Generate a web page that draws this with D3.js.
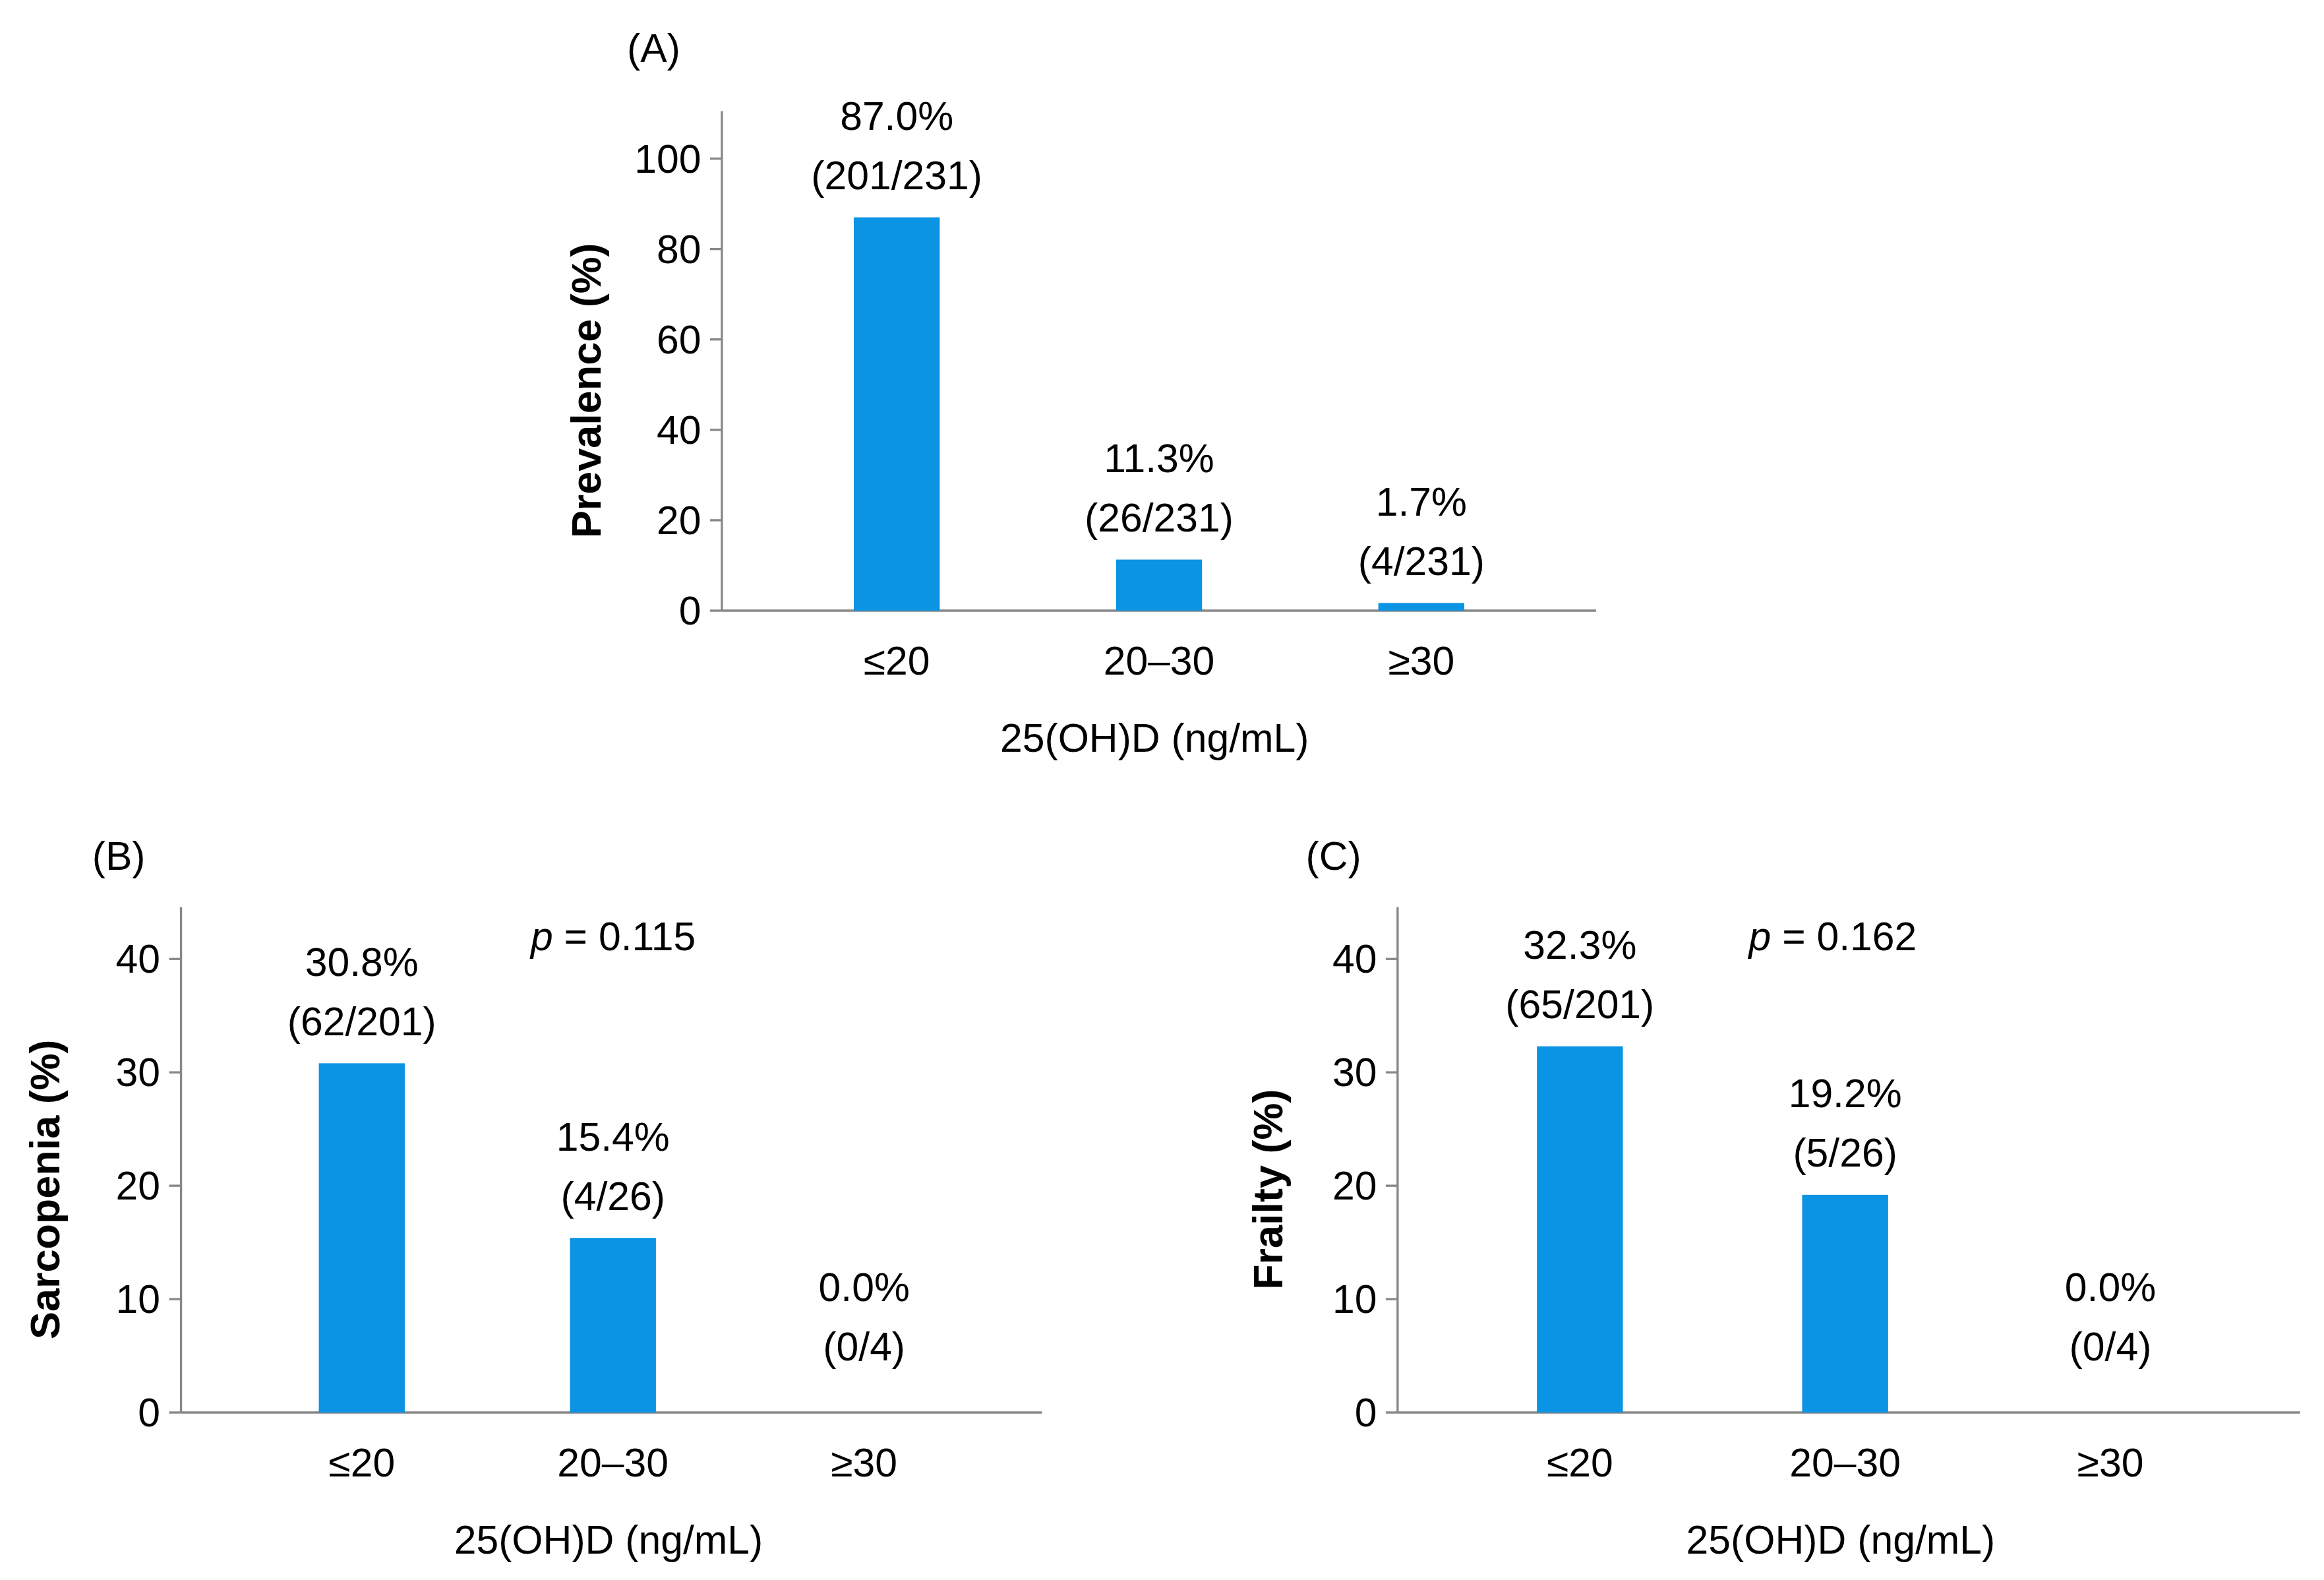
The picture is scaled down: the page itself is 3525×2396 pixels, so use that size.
<!DOCTYPE html>
<html><head><meta charset="utf-8">
<script src="https://cdn.jsdelivr.net/npm/d3@7"></script>
<style>body{margin:0;background:#fff}text{font-family:Arial,"Liberation Sans",sans-serif}</style>
</head><body><div id="chart"></div>
<script>
const categories = ["≤20", "20–30", "≥30"];
const prevalence = [87.0, 11.3, 1.7];
const prevalenceCounts = ["(201/231)", "(26/231)", "(4/231)"];
const sarcopenia = [30.8, 15.4, 0.0];
const sarcopeniaCounts = ["(62/201)", "(4/26)", "(0/4)"];
const frailty = [32.3, 19.2, 0.0];
const frailtyCounts = ["(65/201)", "(5/26)", "(0/4)"];

const svg = d3.select("#chart").append("svg")
  .attr("width", 3525).attr("height", 2396)
  .attr("viewBox", "0 0 1568 1066");

const barColor = "#0b93e4";
const axisColor = "#888";

function panel(o) {
  const g = svg.append("g");
  const y = d3.scaleLinear().domain([0, o.max]).range([o.bottom, o.bottom - o.pxPerUnit * o.max]);
  const x = d3.scalePoint().domain(categories).range([o.left + o.c0, o.left + o.c2]);

  // axes
  g.append("line").attr("x1", o.left).attr("x2", o.left).attr("y1", o.top).attr("y2", o.bottom)
    .attr("stroke", axisColor).attr("stroke-width", 1.5);
  g.append("line").attr("x1", o.left).attr("x2", o.right).attr("y1", o.bottom).attr("y2", o.bottom)
    .attr("stroke", axisColor).attr("stroke-width", 1.5);
  o.ticks.forEach(t => {
    g.append("line").attr("x1", o.left - 8).attr("x2", o.left).attr("y1", y(t)).attr("y2", y(t))
      .attr("stroke", axisColor).attr("stroke-width", 1.5);
    g.append("text").attr("x", o.left - 14).attr("y", y(t)).attr("dy", "0.35em")
      .attr("text-anchor", "end").style("font-size", "27px").text(t);
  });

  // bars
  g.selectAll("rect").data(o.values).enter().append("rect")
    .attr("x", (d, i) => x(categories[i]) - 29).attr("width", 58)
    .attr("y", d => y(d)).attr("height", d => o.bottom - y(d))
    .attr("fill", barColor);

  // value labels
  o.values.forEach((d, i) => {
    const base = d > 0 ? y(d) - 19 : o.bottom - 35;
    g.append("text").attr("x", x(categories[i])).attr("y", base)
      .attr("text-anchor", "middle").style("font-size", "27px").text(o.counts[i]);
    g.append("text").attr("x", x(categories[i])).attr("y", base - 40)
      .attr("text-anchor", "middle").style("font-size", "27px").text(d.toFixed(1) + "%");
  });

  // category labels
  categories.forEach(c => {
    g.append("text").attr("x", x(c)).attr("y", o.bottom + 43)
      .attr("text-anchor", "middle").style("font-size", "27px").text(c);
  });
  g.append("text").attr("x", (o.left + o.c0 + o.left + o.c2) / 2 - 3).attr("y", o.bottom + 95)
    .attr("text-anchor", "middle").style("font-size", "27px").text("25(OH)D (ng/mL)");

  g.append("text")
    .attr("transform", `translate(${o.titleX},${(o.top + o.bottom) / 2 + 20}) rotate(-90)`)
    .attr("text-anchor", "middle").style("font-size", "28px").style("font-weight", "bold").text(o.title);

  g.append("text").attr("x", o.labelX).attr("y", o.labelY)
    .style("font-size", "27px").text(o.label);

  if (o.p) {
    const t = g.append("text").attr("x", o.pX).attr("y", 641).style("font-size", "27px");
    t.append("tspan").style("font-style", "italic").text("p");
    t.append("tspan").text(" = " + o.p);
  }
}

panel({ left: 487, right: 1077, top: 75, bottom: 412, max: 100, pxPerUnit: 3.05,
  ticks: [0, 20, 40, 60, 80, 100], c0: 118, c2: 472, values: prevalence, counts: prevalenceCounts,
  title: "Prevalence (%)", titleX: 405, label: "(A)", labelX: 423, labelY: 42 });
panel({ left: 122, right: 703, top: 612, bottom: 953, max: 40, pxPerUnit: 7.65,
  ticks: [0, 10, 20, 30, 40], c0: 122, c2: 461, values: sarcopenia, counts: sarcopeniaCounts,
  title: "Sarcopenia (%)", titleX: 40, label: "(B)", labelX: 62, labelY: 587, p: "0.115", pX: 358 });
panel({ left: 943, right: 1552, top: 612, bottom: 953, max: 40, pxPerUnit: 7.65,
  ticks: [0, 10, 20, 30, 40], c0: 123, c2: 481, values: frailty, counts: frailtyCounts,
  title: "Frailty (%)", titleX: 865, label: "(C)", labelX: 881, labelY: 587, p: "0.162", pX: 1180 });
</script></body></html>
